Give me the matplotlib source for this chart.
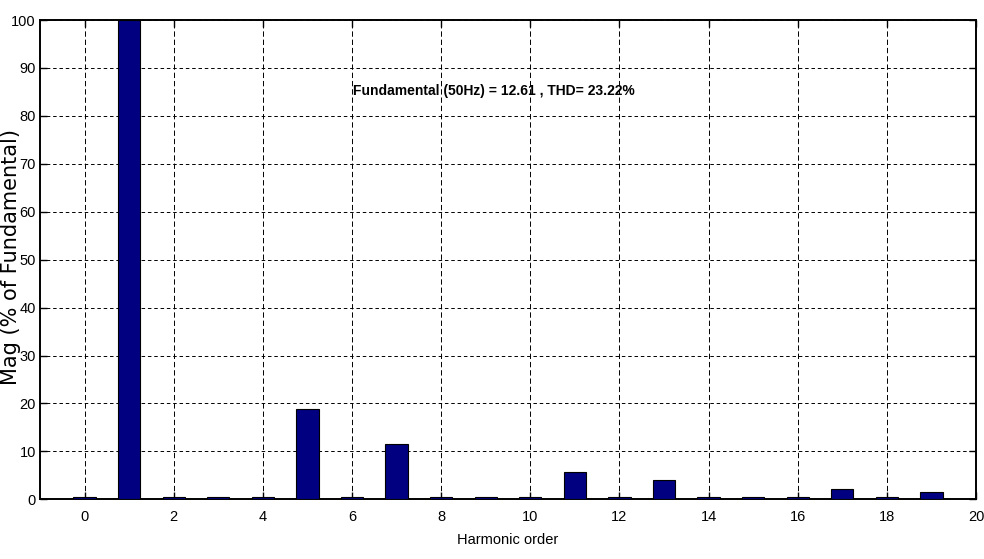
import numpy as np
import matplotlib.pyplot as plt

# harmonic spectrum of the phase current (% of fundamental)
harmonic_order = np.arange(0, 20)
magnitude = [0.5, 100.0, 0.5, 0.5, 0.5, 18.8, 0.5, 11.6, 0.5, 0.5,
             0.5, 5.75, 0.5, 4.1, 0.5, 0.5, 0.5, 2.1, 0.5, 1.45]
x_ticks = list(range(0, 21, 2))
y_ticks = list(range(0, 101, 10))
fundamental_text = 'Fundamental (50Hz) = 12.61 , THD= 23.22%'

narrow = ['Liberation Sans', 'DejaVu Sans']

fig = plt.figure(figsize=(9.84, 5.59), dpi=100)
ax = fig.add_axes([0.0407, 0.1068, 0.9512, 0.8574])

ax.bar(harmonic_order, magnitude, width=0.5, color='#000080',
       edgecolor='black', linewidth=0.8, zorder=5)

ax.set_xlim(-1, 20)
ax.set_ylim(0, 100)
ax.set_xticks(x_ticks)
ax.set_yticks(y_ticks)

# dashed grid, drawn separately so each direction gets its own dash pattern
for xv in x_ticks:
    ax.axvline(xv, color='black', linewidth=0.7, linestyle=(0, (5.5, 3.0)), zorder=1)
for yv in y_ticks:
    ax.axhline(yv, color='black', linewidth=0.7, linestyle=(0, (3.6, 2.9)), zorder=1)

ax.tick_params(direction='in', length=5, width=1, top=True, right=True,
               labelsize=10.5, pad=8)
for lab in ax.get_xticklabels() + ax.get_yticklabels():
    lab.set_family(narrow)
ax.tick_params(axis='y', pad=3)

for sp in ax.spines.values():
    sp.set_linewidth(1.4)
    sp.set_zorder(4)

ax.text(6.02, 85.2, fundamental_text, fontsize=10, fontweight='bold',
        family=narrow, ha='left', va='center', zorder=6)

ax.set_xlabel('Harmonic order', fontsize=10.5, family=narrow, labelpad=6)
fig.text(0.011, 0.54, 'Mag (% of Fundamental)', rotation=90, fontsize=15,
         family='DejaVu Sans', ha='center', va='center')

fig.savefig('out.png', dpi=100)
